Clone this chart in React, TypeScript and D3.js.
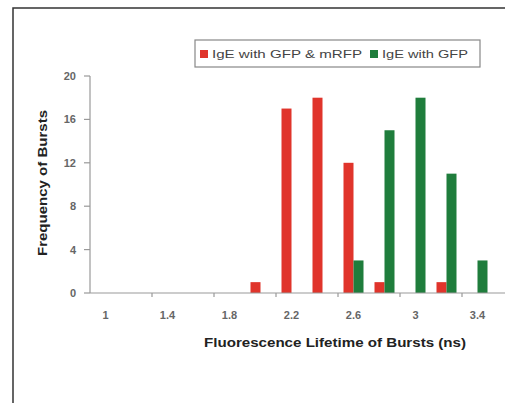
import React from 'react';
import {scaleBand, scaleLinear} from "d3";

const width = 505;
const height = 403;

const categories = ["1", "1.2", "1.4", "1.6", "1.8", "2", "2.2", "2.4", "2.6", "2.8", "3", "3.2", "3.4", "3.6"];
const tickLabels = ["1", "1.4", "1.8", "2.2", "2.6", "3", "3.4"];
const redValues = [0, 0, 0, 0, 0, 1, 17, 18, 12, 1, 0, 1, 0, 0];
const greenValues = [0, 0, 0, 0, 0, 0, 0, 0, 3, 15, 18, 11, 3, 0];
const yTicks = [0, 4, 8, 12, 16, 20];
const seriesNames = ["IgE with GFP & mRFP", "IgE with GFP"];

const RED = "#e0342b";
const GREEN = "#1f7d3c";

const left = 90;
const top = 76;
const bottom = 293;

export default function App() {
  const x = scaleBand().domain(categories).range([left, left + 31 * categories.length]);
  const y = scaleLinear().domain([0, 20]).range([bottom, top]);
  const barW = 10;

  return (
    <svg width={width} height={height} style={{position: "absolute", left: 0, top: 0, fontFamily: "Liberation Sans, Arial, sans-serif"}}>
      <rect width={width} height={height} fill="#fff"/>
      {/* outer frame */}
      <path d={`M13,${height} L13,8 L${width},8`} fill="none" stroke="#333" strokeWidth={1.5}/>

      {/* legend */}
      <rect x={195} y={40} width={285} height={27} fill="#fff" stroke="#888" strokeWidth={1.2}/>
      <rect x={200} y={50} width={8} height={8} fill={RED}/>
      <text x={212} y={58} fontSize={11} fill="#444" textLength={150} lengthAdjust="spacingAndGlyphs">{seriesNames[0]}</text>
      <rect x={370} y={50} width={8} height={8} fill={GREEN}/>
      <text x={382} y={58} fontSize={11} fill="#444" textLength={86} lengthAdjust="spacingAndGlyphs">{seriesNames[1]}</text>

      {/* bars */}
      {categories.map((c, i) => {
        const cx = x(c)! + x.bandwidth() / 2;
        return (
          <g key={c}>
            {redValues[i] > 0 && (
              <rect x={cx - barW} y={y(redValues[i])} width={barW} height={bottom - y(redValues[i])} fill={RED}/>
            )}
            {greenValues[i] > 0 && (
              <rect x={cx} y={y(greenValues[i])} width={barW} height={bottom - y(greenValues[i])} fill={GREEN}/>
            )}
          </g>
        );
      })}

      {/* y axis */}
      <line x1={left} x2={left} y1={top} y2={bottom} stroke="#999" strokeWidth={1.2}/>
      {yTicks.map(t => (
        <g key={t}>
          <line x1={left - 6} x2={left} y1={y(t)} y2={y(t)} stroke="#999" strokeWidth={1.2}/>
          <text x={left - 14} y={y(t) + 4} fontSize={11} fontWeight="bold" textAnchor="end" fill="#666">{t}</text>
        </g>
      ))}

      {/* x axis */}
      <line x1={left} x2={width} y1={bottom} y2={bottom} stroke="#999" strokeWidth={1.2}/>
      {categories.map((c, i) => i % 2 === 0 && i > 0 ? (
        <line key={c} x1={x(c)} x2={x(c)} y1={bottom} y2={bottom + 4} stroke="#999" strokeWidth={1.2}/>
      ) : null)}
      {tickLabels.map(t => (
        <text key={t} x={x(t)! + x.bandwidth() / 2} y={319} fontSize={11} fontWeight="bold" textAnchor="middle" fill="#666">{t}</text>
      ))}

      <text x={335} y={347} fontSize={12} fontWeight="bold" textAnchor="middle" fill="#222" textLength={262} lengthAdjust="spacingAndGlyphs">
        Fluorescence Lifetime of Bursts (ns)
      </text>
      <text transform="translate(47,183) rotate(-90)" fontSize={12} fontWeight="bold" textAnchor="middle" fill="#222" textLength={146} lengthAdjust="spacingAndGlyphs">
        Frequency of Bursts
      </text>
    </svg>
  );
}
